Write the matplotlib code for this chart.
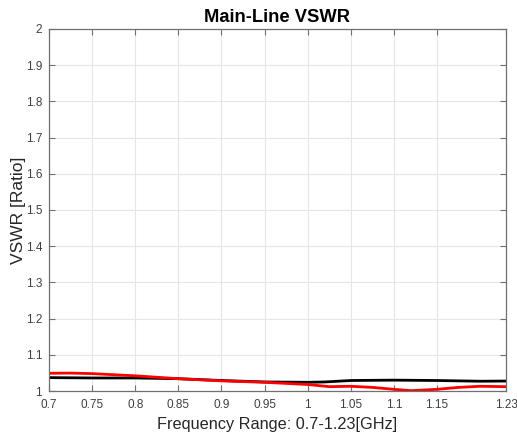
import matplotlib.pyplot as plt

plt.rcParams['font.family'] = ['Liberation Sans', 'DejaVu Sans']

# ===数据
freq_black = [0.70, 0.75, 0.80, 0.85, 0.90, 0.95, 1.00, 1.02, 1.05, 1.10, 1.15, 1.20, 1.23]
vswr_black = [1.037, 1.036, 1.036, 1.034, 1.029, 1.025, 1.024, 1.025, 1.029, 1.030, 1.029, 1.027, 1.0275]

freq_red = [0.70, 0.725, 0.75, 0.80, 0.85, 0.90, 0.95, 1.00, 1.025, 1.05, 1.075, 1.10, 1.12, 1.15, 1.175, 1.20, 1.23]
vswr_red = [1.049, 1.0495, 1.048, 1.042, 1.034, 1.028, 1.024, 1.018, 1.012, 1.013, 1.010, 1.0046, 1.001, 1.0046, 1.010, 1.013, 1.012]

x_ticks = [0.7, 0.75, 0.8, 0.85, 0.9, 0.95, 1, 1.05, 1.1, 1.15, 1.23]
x_labels = ['0.7', '0.75', '0.8', '0.85', '0.9', '0.95', '1', '1.05', '1.1', '1.15', '1.23']
y_ticks = [1, 1.1, 1.2, 1.3, 1.4, 1.5, 1.6, 1.7, 1.8, 1.9, 2]
y_labels = ['1', '1.1', '1.2', '1.3', '1.4', '1.5', '1.6', '1.7', '1.8', '1.9', '2']

# ===画图
fig = plt.figure(figsize=(5.17, 4.36), dpi=100)
ax = fig.add_axes([0.0948, 0.1032, 0.8839, 0.8303])

ax.plot(freq_black, vswr_black, color='black', linewidth=2)
ax.plot(freq_red, vswr_red, color='red', linewidth=2)

ax.set_xlim(0.7, 1.23)
ax.set_ylim(1, 2)
ax.set_xticks(x_ticks)
ax.set_xticklabels(x_labels)
ax.set_yticks(y_ticks)
ax.set_yticklabels(y_labels)
ax.grid(True, color='#e6e6e6', linewidth=0.8)
ax.set_axisbelow(True)
ax.tick_params(direction='in', length=4, labelsize=8.5, width=0.8,
               top=True, right=True, colors='#707070', labelcolor='#404040')
ax.tick_params(axis='x', pad=6)
ax.tick_params(axis='y', pad=5)
for s in ax.spines.values():
    s.set_color('#707070')
    s.set_linewidth(0.9)

ax.set_xlabel('Frequency Range: 0.7-1.23[GHz]', fontsize=11.7, color='#262626', labelpad=4)
ax.set_ylabel('VSWR [Ratio]', fontsize=12.5, color='#262626', labelpad=0)
ax.set_title('Main-Line VSWR', fontsize=13.2, fontweight='bold', pad=5)

fig.savefig('out.png', dpi=100)
